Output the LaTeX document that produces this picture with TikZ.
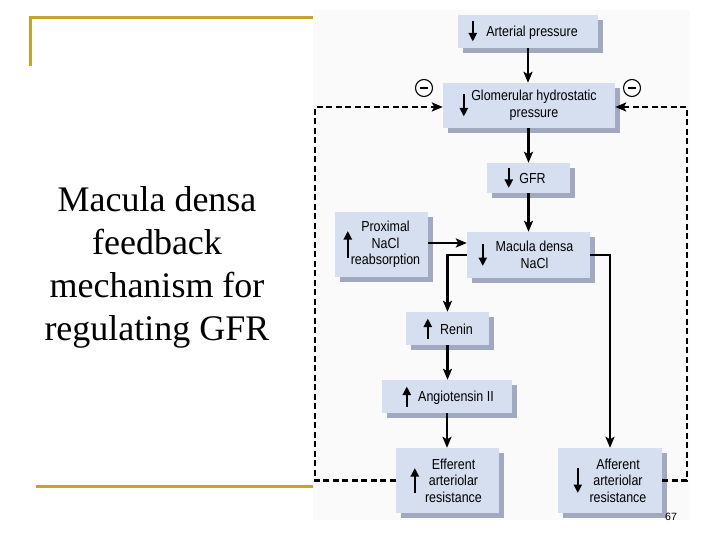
\documentclass[tikz,border=0pt]{standalone}
\usepackage{fontspec}
\setmainfont{Liberation Serif}
\setsansfont{Liberation Sans}
\newfontfamily\diagfont[FakeStretch=0.86]{Liberation Sans}
\usetikzlibrary{arrows.meta,shadows,calc}
\definecolor{gold}{RGB}{199,162,44}
\definecolor{boxfill}{RGB}{214,223,240}
\definecolor{boxshadow}{RGB}{160,169,192}
\definecolor{panel}{RGB}{250,250,250}
\newcommand\indDown[3]{\draw[ind] ($(#1.west)+(#2,-#3/2)$) -- ++(0,#3);}
\newcommand\indUp[3]{\draw[ind] ($(#1.west)+(#2,#3/2)$) -- ++(0,-#3);}
\begin{document}
\begin{tikzpicture}[x=1pt,y=-1pt,
  box/.style={fill=boxfill, inner sep=0pt,
    drop shadow={shadow xshift=5pt, shadow yshift=-5pt, fill=boxshadow, opacity=1}},
  txt/.style={font=\diagfont\fontsize{14.5}{16.5}\selectfont, align=center, inner sep=0pt},
  conn/.style={line width=2.2pt, -{Stealth[length=11pt,width=9pt,inset=2.5pt]}},
  fb/.style={line width=2.2pt, dash pattern=on 6pt off 3.5pt, -{Stealth[length=11pt,width=9pt,inset=2.5pt]}},
  ind/.style={line width=2.4pt, -{Triangle[length=8.5pt,width=8pt]}},
  minus/.style={circle, draw, line width=1.1pt, minimum size=17pt, inner sep=0pt, fill=white},
  goldline/.style={draw=gold, line width=3pt}
]
\useasboundingbox (0,0) rectangle (720,540);
\fill[white] (0,0) rectangle (720,540);
\fill[panel] (313,10) rectangle (690,520);

% slide decoration
\draw[goldline] (30,66) -- (30,18) -- (313,18);
\draw[goldline] (36,486) -- (313,486);
\node[font=\fontsize{36}{43}\selectfont, align=center, inner sep=0pt] (title) at (157,267)
  {Macula densa\\feedback\\mechanism for\\regulating GFR};

% boxes
\node[box, minimum width=140pt, minimum height=33pt] (ap)    at (528,31.5) {};
\node[box, minimum width=172pt, minimum height=45pt] (gh)    at (529,105.5) {};
\node[box, minimum width=83pt,  minimum height=30pt] (gfr)   at (528.5,178) {};
\node[box, minimum width=93pt,  minimum height=65pt] (prox)  at (381.5,244.5) {};
\node[box, minimum width=123pt, minimum height=46pt] (md)    at (528.5,255) {};
\node[box, minimum width=83pt,  minimum height=33pt] (renin) at (447.5,328.5) {};
\node[box, minimum width=130pt, minimum height=33pt] (ang)   at (447,396.5) {};
\node[box, minimum width=103pt, minimum height=65pt] (eff)   at (447.5,480.5) {};
\node[box, minimum width=104pt, minimum height=65pt] (aff)   at (610,480.5) {};

% texts
\node[txt] (apt)    at ([xshift=4pt,yshift=-1pt]ap.center) {Arterial pressure};
\node[txt] (ght)    at ([xshift=5pt]gh.center) {Glomerular hydrostatic\\pressure};
\node[txt] (gfrt)   at ([xshift=4pt,yshift=-1pt]gfr.center) {GFR};
\node[txt] (proxt)  at ([xshift=4pt]prox.center) {Proximal\\NaCl\\reabsorption};
\node[txt] (mdt)    at ([xshift=6pt]md.center) {Macula densa\\NaCl};
\node[txt] (renint) at ([xshift=9pt,yshift=-1pt]renin.center) {Renin};
\node[txt] (angt)   at ([xshift=9pt,yshift=-1pt]ang.center) {Angiotensin II};
\node[txt] (efft)   at ([xshift=6pt]eff.center) {Efferent\\arteriolar\\resistance};
\node[txt] (afft)   at ([xshift=8pt]aff.center) {Afferent\\arteriolar\\resistance};

% indicator arrows
\indDown{ap}{15}{20}
\indDown{gh}{21}{22}
\indDown{gfr}{22}{20}
\indUp{prox}{13}{27}
\indDown{md}{16}{22}
\indUp{renin}{22}{20}
\indUp{ang}{25}{20}
\indUp{eff}{19}{25}
\indDown{aff}{20}{25}

% connectors
\draw[conn] (ap.south) -- (ap.south |- gh.north);
\draw[conn] (gh.south -| gfr.north) -- (gfr.north);
\draw[conn] (gfr.south) -- (gfr.south |- md.north);
\draw[conn] ([yshift=1.5pt]prox.east) -- ([yshift=1.5pt]prox.east -| md.west);
\draw[conn] (md.west) -| (renin.north);
\draw[conn] (renin.south) -- (renin.south |- ang.north);
\draw[conn] (ang.south) -- (ang.south |- eff.north);
\draw[conn] (md.east) -| (aff.north);

% feedback loops
\coordinate (dl) at (315,480.5);
\coordinate (dr) at (687,480.5);
\draw[fb] (eff.west) -- (dl) |- ([yshift=-1.5pt]gh.west);
\draw[fb] (aff.east) -- (dr) |- ([yshift=-1.5pt]gh.east);

% minus signs
\node[minus] (m1) at (424,88) {};
\node[minus] (m2) at (632,88) {};
\draw[line width=1.1pt] ($(m1.center)+(-4,0)$) -- ($(m1.center)+(4,0)$);
\draw[line width=1.1pt] ($(m2.center)+(-4,0)$) -- ($(m2.center)+(4,0)$);

% page number
\node[font=\sffamily\fontsize{10.5}{12}\selectfont, inner sep=0pt] (pg) at (671,517) {67};
\end{tikzpicture}
\end{document}
